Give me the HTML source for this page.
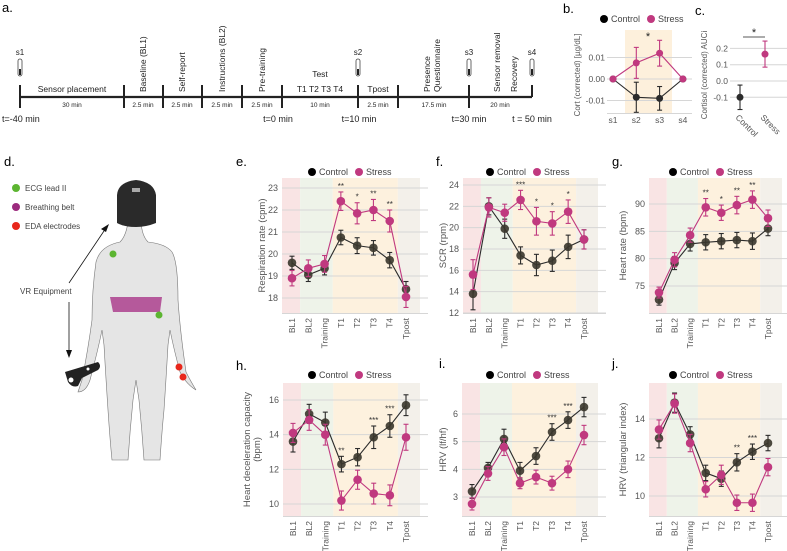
<!DOCTYPE html>
<html><head><meta charset="utf-8"><style>
body{margin:0;background:#fff;width:787px;height:551px;overflow:hidden}
svg{font-family:"Liberation Sans",sans-serif;display:block}
</style></head><body>
<svg id="fig" width="787" height="551" viewBox="0 0 787 551">
<g font-size="13" fill="#000">
<text x="2" y="12">a.</text><text x="563" y="13">b.</text><text x="695" y="15">c.</text>
<text x="4" y="166">d.</text><text x="236" y="166">e.</text><text x="436" y="166">f.</text><text x="612" y="166">g.</text>
<text x="236" y="370">h.</text><text x="439" y="368">i.</text><text x="612" y="368">j.</text>
</g>
<g id="timeline">
<line x1="20" y1="97" x2="532" y2="97" stroke="#222" stroke-width="2.2"/>
</g>
<g id="bodyfig">
<path d="M128 222 Q126 236 120 242 Q100 246 96 262 Q92 290 92 320 Q88 350 82 380 L78 392 Q86 392 90 380 Q98 350 102 330 L104 345 Q106 380 108 410 Q110 440 112 460 L128 460 Q130 430 133 400 L136 380 L139 400 Q142 430 144 460 L160 460 Q162 430 164 410 Q166 380 168 345 L170 330 Q174 350 180 372 Q186 384 196 390 Q190 380 186 372 Q180 330 178 300 Q178 262 172 252 Q166 244 148 242 Q142 236 141 222 Z" fill="#e5e5e5" stroke="#777" stroke-width="0.6"/>
<path d="M117 195 Q118 182 136 180 Q154 182 156 195 L156 223 Q146 227 136 227 Q124 227 117 223 Z" fill="#2a2a2a"/>
<rect x="132" y="188" width="8" height="4" fill="#fff" opacity="0.6"/>
<polygon points="110,297 162,297 160,312 113,312" fill="#b5599b"/>
<circle cx="113" cy="254" r="3.5" fill="#5cb531"/><circle cx="159" cy="315" r="3.5" fill="#5cb531"/>
<circle cx="179" cy="367" r="3.5" fill="#e8271b"/><circle cx="183" cy="377" r="3.5" fill="#e8271b"/>
<path d="M65 372 L98 362 Q102 366 98 370 L82 378 L78 386 Q72 388 68 382 Z" fill="#222"/>
<circle cx="71" cy="380" r="2.5" fill="#fff"/><circle cx="88" cy="369" r="1.5" fill="#fff"/>
<line x1="69" y1="283" x2="106" y2="228" stroke="#111" stroke-width="0.8"/><polygon points="109,224 101,229 106,232" fill="#111"/>
<line x1="69" y1="302" x2="69" y2="352" stroke="#111" stroke-width="0.8"/><polygon points="69,358 66,350 72,350" fill="#111"/>
<text x="20" y="294" font-size="8" fill="#444">VR Equipment</text>
<circle cx="16" cy="188" r="4" fill="#5cb531"/><text x="25" y="191" font-size="8" fill="#444">ECG lead II</text>
<circle cx="16" cy="207" r="4" fill="#9b2a7d"/><text x="25" y="210" font-size="8" fill="#444">Breathing belt</text>
<circle cx="16" cy="226" r="4" fill="#e8271b"/><text x="25" y="229" font-size="8" fill="#444">EDA electrodes</text>
</g>
<g id="charts"></g>
</svg>
<script>
const NS="http://www.w3.org/2000/svg";
function mk(parent,tag,attrs,txt){const e=document.createElementNS(NS,tag);for(const k in attrs)e.setAttribute(k,attrs[k]);if(txt!==undefined)e.textContent=txt;parent.appendChild(e);return e;}
const CTRL="#2b2b2b", STR="#c0397f";

const tlTicks=[20,124,163,202,242,282,358,398,469,532];
const tlVert=[["Baseline (BL1)",143],["Self-report",182],["Instructions (BL2)",222],["Pre-training",262],["Sensor removal",497],["Recovery",514]];
const tlDur=[["30 min",72],["2.5 min",143],["2.5 min",182],["2.5 min",222],["2.5 min",262],["10 min",320],["2.5 min",378],["17.5 min",434],["20 min",500]];
const tlTimes=[["t=-40 min",2,"start"],["t=0 min",278,"middle"],["t=10 min",359,"middle"],["t=30 min",469,"middle"],["t = 50 min",532,"middle"]];
const tubes=[["s1",20],["s2",358],["s3",469],["s4",532]];
(function(){
 const g=document.getElementById('timeline');
 tlTicks.forEach((x,i)=>{const l=mk(g,'line',{x1:x,y1:85,x2:x,y2:i==tlTicks.length-1?97:108,stroke:'#222','stroke-width':2});
  
  });
 tlVert.forEach(([t,x])=>{const e=mk(g,'text',{transform:`translate(${x+3},${92}) rotate(-90)`,'font-size':8.5,fill:'#222'},t);
  
  });
 const pq=mk(g,'text',{transform:'translate(430,92) rotate(-90)','font-size':8.5,fill:'#222'},'Presence');
 
 
 const pq2=mk(g,'text',{transform:'translate(440,92) rotate(-90)','font-size':8.5,fill:'#222'},'Questionnaire');
 
 
 [["Sensor placement",72,92],["Test",320,77],["T1 T2 T3 T4",320,92],["Tpost",378,92]].forEach(([t,x,y])=>{const e=mk(g,'text',{x:x,y:y,'font-size':8.5,fill:'#222','text-anchor':'middle'},t);
  
  });
 tlDur.forEach(([t,x])=>{const e=mk(g,'text',{x:x,y:107,'font-size':6.5,fill:'#222','text-anchor':'middle'},t);
  
  });
 tlTimes.forEach(([t,x,a])=>{const e=mk(g,'text',{x:x,y:122,'font-size':9,fill:'#222','text-anchor':a},t);
  
  });
 tubes.forEach(([t,x])=>{const e=mk(g,'text',{x:x,y:55,'font-size':8,fill:'#222','text-anchor':'middle'},t);
  
  
  const r=mk(g,'rect',{x:x-2,y:59,width:4,height:17,rx:2,fill:'#fff',stroke:'#444','stroke-width':0.8});
  
  
  mk(g,'rect',{x:x-1,y:69,width:2,height:6,fill:'#222'});});
})();

const bCats=["s1","s2","s3","s4"];
const bCtrl=[0,-0.0085,-0.009,0];
const bCtrlErr=[0,0.007,0.0055,0];
const bStr=[0,0.0075,0.012,0];
const bStrErr=[0,0.0072,0.006,0];
const bTicks=[-0.01,0,0.01];
const bTickLabels=["-0.01","0.00","0.01"];
const cCats=["Control","Stress"];
const cVals=[-0.1,0.165];
const cErr=[0.075,0.08];
const cTicks=[-0.1,0,0.1,0.2];
const cTickLabels=["-0.1","0.0","0.1","0.2"];

const cats=["BL1","BL2","Training","T1","T2","T3","T4","Tpost"];
const eCtrl=[19.6,19.05,19.35,20.75,20.38,20.28,19.72,18.4];
const eCtrlErr=[0.3,0.3,0.3,0.33,0.36,0.33,0.35,0.35];
const eStr=[18.9,19.35,19.55,22.4,21.85,22.0,21.5,18.05];
const eStrErr=[0.35,0.38,0.38,0.42,0.48,0.48,0.5,0.48];
const eStars=["","","","**","*","**","**",""];
const eTicks=[18,19,20,21,22,23];
const fCtrl=[13.8,22.0,19.9,17.4,16.5,16.9,18.2,18.9];
const fCtrlErr=[1.5,0.8,0.9,0.8,1.0,1.0,1.1,0.9];
const fStr=[15.6,21.9,21.4,22.6,20.6,20.4,21.5,18.9];
const fStrErr=[1.4,0.9,0.8,0.9,1.3,1.1,1.1,0.9];
const fStars=["","","","***","*","*","*",""];
const fTicks=[12,14,16,18,20,22,24];
const gCtrl=[72.5,79.2,82.7,83.0,83.2,83.4,83.2,85.5];
const gCtrlErr=[1.0,1.2,1.3,1.4,1.4,1.4,1.5,1.3];
const gStr=[73.8,79.8,84.3,89.4,88.4,89.8,90.8,87.4];
const gStrErr=[1.0,1.3,1.3,1.6,1.4,1.6,1.6,1.5];
const gStars=["","","","**","*","**","**",""];
const gTicks=[75,80,85,90];
const hCtrl=[13.6,15.2,14.7,12.3,12.7,13.85,14.5,15.7];
const hCtrlErr=[0.6,0.55,0.6,0.45,0.5,0.65,0.65,0.6];
const hStr=[14.1,14.85,14.0,10.2,11.4,10.6,10.5,13.85];
const hStrErr=[0.55,0.6,0.6,0.55,0.55,0.6,0.6,0.75];
const hStars=["","","","**","","***","***",""];
const hTicks=[10,12,14,16];
const iCtrl=[3.2,4.05,5.1,3.95,4.48,5.35,5.78,6.25];
const iCtrlErr=[0.25,0.2,0.35,0.3,0.3,0.3,0.3,0.35];
const iStr=[2.75,3.85,4.8,3.5,3.72,3.5,4.0,5.24];
const iStrErr=[0.22,0.25,0.3,0.2,0.25,0.25,0.3,0.35];
const iStars=["","","","","","***","***",""];
const iTicks=[3,4,5,6];
const jCtrl=[13.0,14.85,13.2,11.2,10.9,11.75,12.3,12.75];
const jCtrlErr=[0.5,0.5,0.4,0.4,0.4,0.45,0.4,0.4];
const jStr=[13.45,14.8,12.75,10.35,11.1,9.65,9.65,11.5];
const jStrErr=[0.5,0.5,0.45,0.4,0.5,0.4,0.45,0.45];
const jStars=["","","","","","**","***",""];
const jTicks=[10,12,14];

const charts=document.getElementById('charts');
function legend(g,cx,y){
  const lg=mk(g,'g',{});
  
  
  const a=mk(lg,'g',{});
  
  
  mk(a,'circle',{cx:cx-40,cy:y,r:4,fill:'#000'});
  mk(a,'text',{x:cx-33,y:y+3,'font-size':9,fill:'#444'},'Control');
  const b=mk(lg,'g',{});
  
  
  mk(b,'circle',{cx:cx+7,cy:y,r:4,fill:STR});
  mk(b,'text',{x:cx+14,y:y+3,'font-size':9,fill:'#444'},'Stress');
}
function errbar(g,x,ylo,yhi,col){
  mk(g,'line',{x1:x,y1:ylo,x2:x,y2:yhi,stroke:col,'stroke-width':1.1});
  mk(g,'line',{x1:x-2.5,y1:ylo,x2:x+2.5,y2:ylo,stroke:col,'stroke-width':1.1});
  mk(g,'line',{x1:x-2.5,y1:yhi,x2:x+2.5,y2:yhi,stroke:col,'stroke-width':1.1});
}
function linePanel(name,P,ctrl,ctrlErr,str,strErr,stars,ticks,ylab,ylab2){
  const g=mk(charts,'g',{});
  
  
  const k=(P.p1-P.p2)/(P.v1-P.v2);
  const Y=v=>P.p2+(v-P.v2)*k;
  const step=(P.x1-P.x0-24)/(cats.length-1);
  const X=i=>P.x0+10+i*step;
  const mid=(a,b)=>(X(a)+X(b))/2;
  const bands=[[P.x0,mid(0,1),'#f9e4e4'],[mid(0,1),mid(2,3),'#eef3e9'],[mid(2,3),mid(6,7),'#fdf1de'],[mid(6,7),P.x1,'#f3f0ea']];
  bands.forEach(b=>{const r=mk(g,'rect',{x:b[0],y:P.top,width:b[1]-b[0],height:P.bot-P.top,fill:b[2]});
    
    });
  ticks.forEach(t=>{const y=Y(t);
    const l=mk(g,'line',{x1:P.x0,y1:y,x2:P.x1+8,y2:y,stroke:'#d6d6d6','stroke-width':1});
    
    
    const tx=mk(g,'text',{x:P.x0-4,y:y+3,'font-size':9,fill:'#555','text-anchor':'end'},String(t));
    
    });
  mk(g,'line',{x1:P.x0,y1:P.bot+0.5,x2:P.x1+8,y2:P.bot+0.5,stroke:'#d6d6d6','stroke-width':1});
  cats.forEach((c,i)=>{const t=mk(g,'text',{transform:`translate(${X(i)+3},${P.bot+5}) rotate(-90)`,'font-size':8.5,fill:'#555','text-anchor':'end'},c);
    
    });
  const yl=mk(g,'text',{transform:`translate(${P.lx},${(P.top+P.bot)/2}) rotate(-90)`,'font-size':9.5,fill:'#555','text-anchor':'middle'},ylab);
  
  
  if(ylab2){const y2=mk(g,'text',{transform:`translate(${P.lx+10},${(P.top+P.bot)/2}) rotate(-90)`,'font-size':9.5,fill:'#555','text-anchor':'middle'},ylab2);
    
    }
  [[ctrl,ctrlErr,CTRL,'control'],[str,strErr,STR,'stress']].forEach(([vals,err,col,nm])=>{
    const s=mk(g,'g',{});
    
    
    const pl=mk(s,'polyline',{points:vals.map((v,i)=>X(i)+','+Y(v)).join(' '),fill:'none',stroke:col,'stroke-width':1.1});
    
    
    vals.forEach((v,i)=>{
      errbar(s,X(i),Y(v-err[i]),Y(v+err[i]),col);
      const c=mk(s,'circle',{cx:X(i),cy:Y(v),r:4.3,fill:nm=='control'?'#3a362c':col,'fill-opacity':nm=='control'?0.9:1});
      
      
    });
  });
  stars.forEach((s,i)=>{if(!s)return;
    const top=Math.min(Y(ctrl[i]+ctrlErr[i]),Y(str[i]+strErr[i]));
    const t=mk(g,'text',{x:X(i),y:top-3,'font-size':8,fill:'#333','text-anchor':'middle'},s);
    
    });
  legend(g,P.lgx,P.lgy);
}
linePanel('panel-e-respiration',{x0:282,x1:420,top:178,bot:313,v1:23,p1:188,v2:18,p2:298,lx:265,lgx:352,lgy:172},eCtrl,eCtrlErr,eStr,eStrErr,eStars,eTicks,'Respiration rate (cpm)');
linePanel('panel-f-scr',{x0:463,x1:598,top:178,bot:313,v1:24,p1:185,v2:12,p2:313,lx:446,lgx:530,lgy:172},fCtrl,fCtrlErr,fStr,fStrErr,fStars,fTicks,'SCR (rpm)');
linePanel('panel-g-heart-rate',{x0:649,x1:782,top:178,bot:313,v1:90,p1:204,v2:75,p2:286,lx:626,lgx:713,lgy:172},gCtrl,gCtrlErr,gStr,gStrErr,gStars,gTicks,'Heart rate (bpm)');
linePanel('panel-h-deceleration',{x0:283,x1:420,top:383,bot:516,v1:16,p1:400,v2:10,p2:504,lx:250,lgx:352,lgy:375},hCtrl,hCtrlErr,hStr,hStrErr,hStars,hTicks,'Heart deceleration capacity','(bpm)');
linePanel('panel-i-hrv-lfhf',{x0:462,x1:598,top:383,bot:516,v1:6,p1:414,v2:3,p2:497,lx:446,lgx:530,lgy:375},iCtrl,iCtrlErr,iStr,iStrErr,iStars,iTicks,'HRV (lf/hf)');
linePanel('panel-j-hrv-triangular',{x0:649,x1:782,top:383,bot:516,v1:14,p1:419,v2:10,p2:496,lx:626,lgx:713,lgy:375},jCtrl,jCtrlErr,jStr,jStrErr,jStars,jTicks,'HRV (triangular index)');

(function(){
  const g=mk(charts,'g',{});
  
  
  const Y=v=>79-v*2150;
  const X=i=>613+i*23.3;
  const band=mk(g,'rect',{x:625,y:30,width:47,height:83,fill:'#fdf0dc'});
  
  
  bTicks.forEach((t,i)=>{const y=Y(t);
    mk(g,'line',{x1:607,y1:y,x2:692,y2:y,stroke:'#d6d6d6'});
    const tx=mk(g,'text',{x:605,y:y+3,'font-size':8.5,fill:'#555','text-anchor':'end'},bTickLabels[i]);
    
    });
  mk(g,'line',{x1:607,y1:113.5,x2:692,y2:113.5,stroke:'#d6d6d6'});
  bCats.forEach((c,i)=>{const t=mk(g,'text',{x:X(i),y:123,'font-size':8.5,fill:'#555','text-anchor':'middle'},c);
    
    });
  const yl=mk(g,'text',{transform:'translate(580,75) rotate(-90)','font-size':8,fill:'#555','text-anchor':'middle'},'Cort (corrected) [µg/dL]');
  
  
  [[bCtrl,bCtrlErr,CTRL,'control'],[bStr,bStrErr,STR,'stress']].forEach(([vals,err,col,nm])=>{
    const s=mk(g,'g',{});
    
    
    mk(s,'polyline',{points:vals.map((v,i)=>X(i)+','+Y(v)).join(' '),fill:'none',stroke:col,'stroke-width':1.1});
    vals.forEach((v,i)=>{if(err[i])errbar(s,X(i),Y(v-err[i]),Y(v+err[i]),col);
      const c=mk(s,'circle',{cx:X(i),cy:Y(v),r:3.5,fill:col});
      
      });
  });
  const st=mk(g,'text',{x:648,y:40,'font-size':11,fill:'#222','text-anchor':'middle'},'*');
  
  
  legend(g,644,19);
})();
(function(){
  const g=mk(charts,'g',{});
  
  
  const Y=v=>81-v*163;
  const X=i=>740+i*25;
  cTicks.forEach((t,i)=>{const y=Y(t);
    mk(g,'line',{x1:730,y1:y,x2:787,y2:y,stroke:'#d6d6d6'});
    const tx=mk(g,'text',{x:728,y:y+3,'font-size':8.5,fill:'#555','text-anchor':'end'},cTickLabels[i]);
    
    });
  const yl=mk(g,'text',{transform:'translate(707,75) rotate(-90)','font-size':8,fill:'#555','text-anchor':'middle'},'Cortisol (corrected) AUCi');
  
  
  cCats.forEach((c,i)=>{const col=i?STR:CTRL;
    errbar(g,X(i),Y(cVals[i]-cErr[i]),Y(cVals[i]+cErr[i]),col);
    const p=mk(g,'circle',{cx:X(i),cy:Y(cVals[i]),r:3.5,fill:col});
    
    
    const t=mk(g,'text',{transform:`translate(${X(i)-5},${118}) rotate(45)`,'font-size':8.5,fill:'#555'},c);
    
    });
  mk(g,'line',{x1:743,y1:37,x2:765,y2:37,stroke:'#222','stroke-width':0.8});
  const st=mk(g,'text',{x:754,y:36,'font-size':11,fill:'#222','text-anchor':'middle'},'*');
  
  
})();
</script>
</body></html>
